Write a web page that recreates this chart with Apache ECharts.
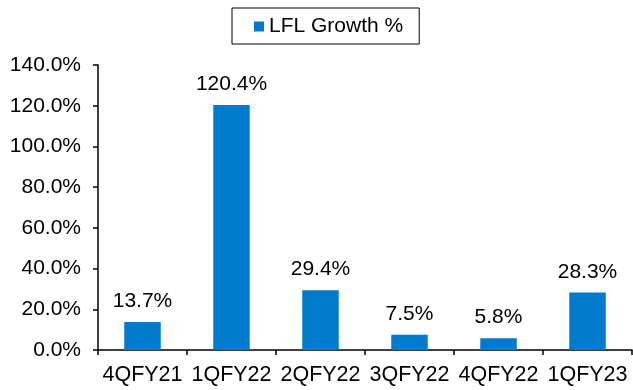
<!DOCTYPE html>
<html>
<head>
<meta charset="utf-8">
<title>LFL Growth</title>
<script src="https://cdn.jsdelivr.net/npm/echarts@6/dist/echarts.min.js"></script>
<style>
  html, body { margin: 0; padding: 0; background: #fff; }
  #main { width: 633px; height: 390px; }
</style>
</head>
<body>
<div id="main"></div>
<script>
// data
var quarters = ['4QFY21', '1QFY22', '2QFY22', '3QFY22', '4QFY22', '1QFY23'];
var lflGrowth = [13.7, 120.4, 29.4, 7.5, 5.8, 28.3];
var seriesName = 'LFL Growth %';

var chart = echarts.init(document.getElementById('main'));
var font = 'Liberation Sans, Arial, sans-serif';

var option = {
    animation: false,
    textStyle: { fontFamily: font },
    legend: {
        data: [seriesName],
        left: 232,
        top: 8,
        padding: [8, 16, 7, 22],
        borderColor: '#000',
        borderWidth: 1,
        icon: 'rect',
        itemWidth: 10,
        itemHeight: 10,
        itemGap: 6,
        textStyle: { fontSize: 21, color: '#000', fontFamily: font }
    },
    grid: { left: 98, right: 1, top: 65, bottom: 40 },
    xAxis: {
        type: 'category',
        data: quarters,
        axisLine: { lineStyle: { color: '#000', width: 1.5 } },
        axisTick: { show: true, interval: 0, length: 5, lineStyle: { color: '#000', width: 1.5 } },
        axisLabel: { interval: 0, color: '#000', fontSize: 21.5, margin: 14, fontFamily: font }
    },
    yAxis: {
        type: 'value',
        min: 0,
        max: 140,
        interval: 20,
        axisLine: { show: true, lineStyle: { color: '#000', width: 1.5 } },
        axisTick: { show: true, length: 5, lineStyle: { color: '#000', width: 1.5 } },
        splitLine: { show: false },
        axisLabel: {
            color: '#000', fontSize: 21, margin: 17, fontFamily: font,
            formatter: function (v) { return v.toFixed(1) + '%'; }
        }
    },
    series: [{
        name: seriesName,
        type: 'bar',
        data: lflGrowth,
        barWidth: '41%',
        itemStyle: { color: '#007ACC' },
        label: {
            show: true,
            position: 'top',
            distance: 10,
            color: '#000',
            fontSize: 21,
            fontFamily: font,
            formatter: function (p) { return p.value.toFixed(1) + '%'; }
        }
    }]
};

chart.setOption(option);
</script>
</body>
</html>
